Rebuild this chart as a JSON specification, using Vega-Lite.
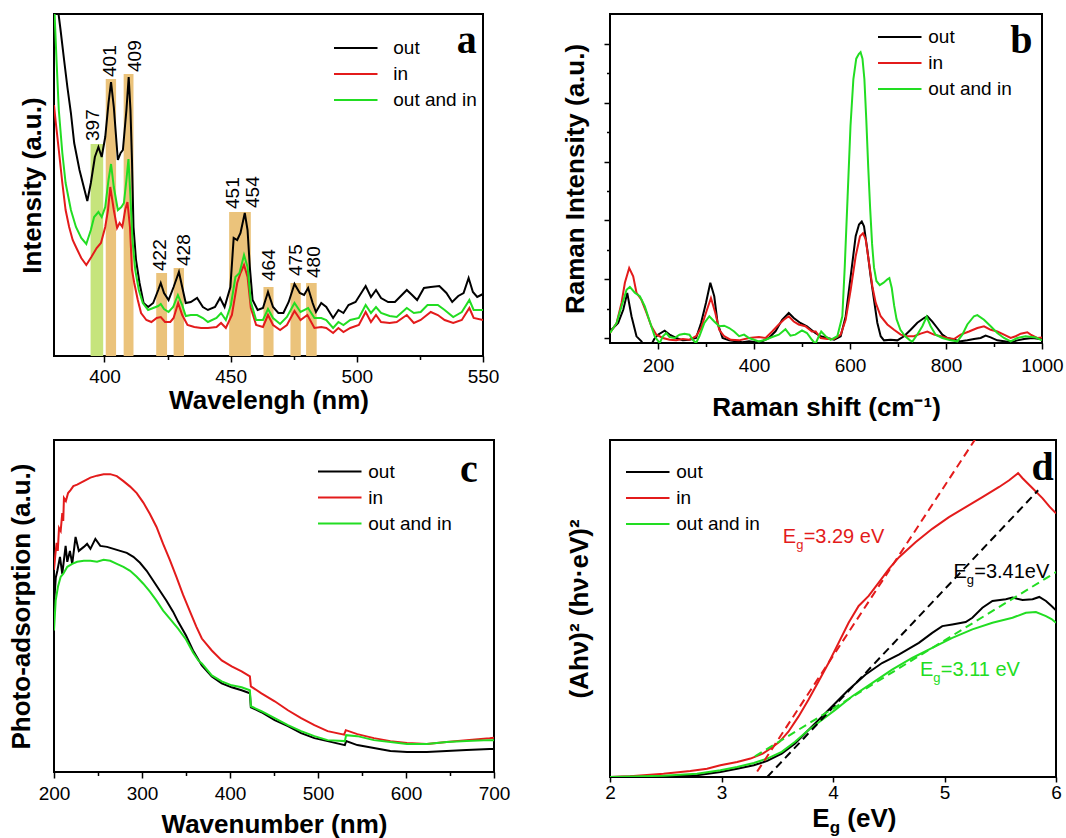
{
  "$schema": "https://vega.github.io/schema/vega-lite/v6.json",
  "background": "white",
  "padding": {"left": 7, "top": 13, "right": 3, "bottom": 2},
  "config": {
    "view": {"stroke": "black", "strokeWidth": 2},
    "font": "Liberation Sans",
    "axis": {"domain": false, "grid": false, "labelFont": "Liberation Sans", "labelFontSize": 19, "labelColor": "black", "titleFont": "Liberation Sans", "titleFontSize": 26, "titleFontWeight": "bold", "titleColor": "black", "tickColor": "black", "tickWidth": 1.5, "labelOverlap": false, "labelFlush": false},
    "legend": {"symbolType": "M-1.5,0H1.5", "symbolSize": 841, "symbolStrokeWidth": 2, "symbolOffset": 10.25, "labelFont": "Liberation Sans", "labelFontSize": 19, "labelColor": "black", "rowPadding": 0, "labelOffset": 22, "padding": 0}
  },
  "datasets": {
    "pl": [
      {"s":"out","x":381.4,"y":350},{"s":"out","x":382.6,"y":326},{"s":"out","x":384,"y":296},{"s":"out","x":385.3,"y":269},{"s":"out","x":386.7,"y":243},{"s":"out","x":388,"y":213},{"s":"out","x":390.1,"y":186},{"s":"out","x":392.1,"y":166},{"s":"out","x":393.2,"y":155},{"s":"out","x":394.6,"y":173},{"s":"out","x":396.2,"y":199},{"s":"out","x":397.6,"y":209},{"s":"out","x":398.9,"y":199},{"s":"out","x":400.3,"y":219},{"s":"out","x":401.6,"y":253},{"s":"out","x":402.6,"y":274},{"s":"out","x":403.7,"y":249},{"s":"out","x":405.3,"y":196},{"s":"out","x":406.4,"y":203},{"s":"out","x":407.3,"y":206},{"s":"out","x":408.7,"y":246},{"s":"out","x":409.6,"y":279},{"s":"out","x":410.3,"y":246},{"s":"out","x":410.9,"y":196},{"s":"out","x":411.5,"y":129},{"s":"out","x":412.5,"y":96},{"s":"out","x":413.9,"y":73},{"s":"out","x":415.5,"y":53},{"s":"out","x":417.3,"y":49},{"s":"out","x":419.3,"y":53},{"s":"out","x":421.3,"y":66},{"s":"out","x":422.3,"y":73},{"s":"out","x":423.6,"y":63},{"s":"out","x":425.4,"y":56},{"s":"out","x":427.4,"y":69},{"s":"out","x":429.5,"y":84},{"s":"out","x":430.8,"y":69},{"s":"out","x":432.2,"y":53},{"s":"out","x":434.2,"y":54},{"s":"out","x":436.7,"y":58},{"s":"out","x":439,"y":49},{"s":"out","x":441,"y":46},{"s":"out","x":443.8,"y":49},{"s":"out","x":445.8,"y":58},{"s":"out","x":447.6,"y":49},{"s":"out","x":449.9,"y":69},{"s":"out","x":451.2,"y":118},{"s":"out","x":452.6,"y":116},{"s":"out","x":453.9,"y":123},{"s":"out","x":455.6,"y":143},{"s":"out","x":456.7,"y":126},{"s":"out","x":457.6,"y":89},{"s":"out","x":458.7,"y":56},{"s":"out","x":460.7,"y":46},{"s":"out","x":462.8,"y":48},{"s":"out","x":464.8,"y":64},{"s":"out","x":466.8,"y":49},{"s":"out","x":468.9,"y":43},{"s":"out","x":470.9,"y":43},{"s":"out","x":473,"y":54},{"s":"out","x":475.3,"y":72},{"s":"out","x":477.4,"y":63},{"s":"out","x":479.1,"y":61},{"s":"out","x":480.7,"y":68},{"s":"out","x":482.5,"y":53},{"s":"out","x":483.8,"y":44},{"s":"out","x":485.9,"y":53},{"s":"out","x":487.9,"y":49},{"s":"out","x":490.6,"y":38},{"s":"out","x":492.7,"y":46},{"s":"out","x":494.7,"y":43},{"s":"out","x":496.7,"y":51},{"s":"out","x":499.5,"y":54},{"s":"out","x":503.5,"y":70},{"s":"out","x":505.6,"y":59},{"s":"out","x":507.6,"y":66},{"s":"out","x":509.6,"y":58},{"s":"out","x":512.4,"y":54},{"s":"out","x":515.1,"y":54},{"s":"out","x":519.8,"y":66},{"s":"out","x":521.9,"y":61},{"s":"out","x":523.9,"y":56},{"s":"out","x":526.6,"y":68},{"s":"out","x":529.3,"y":69},{"s":"out","x":532.7,"y":70},{"s":"out","x":535.5,"y":63},{"s":"out","x":537.8,"y":54},{"s":"out","x":540.2,"y":60},{"s":"out","x":542.3,"y":63},{"s":"out","x":544.3,"y":78},{"s":"out","x":546,"y":64},{"s":"out","x":547.7,"y":59},{"s":"out","x":550,"y":62},
      {"s":"in","x":380,"y":251},{"s":"in","x":380.6,"y":236},{"s":"in","x":381.9,"y":206},{"s":"in","x":383.3,"y":173},{"s":"in","x":384.6,"y":146},{"s":"in","x":386,"y":129},{"s":"in","x":387.4,"y":116},{"s":"in","x":388.7,"y":109},{"s":"in","x":390.8,"y":98},{"s":"in","x":392.8,"y":91},{"s":"in","x":394.8,"y":99},{"s":"in","x":396.9,"y":108},{"s":"in","x":398.6,"y":113},{"s":"in","x":400.3,"y":129},{"s":"in","x":401.4,"y":146},{"s":"in","x":402.3,"y":169},{"s":"in","x":403.7,"y":146},{"s":"in","x":405,"y":128},{"s":"in","x":406,"y":133},{"s":"in","x":407.1,"y":129},{"s":"in","x":408.2,"y":146},{"s":"in","x":409.1,"y":154},{"s":"in","x":410.1,"y":129},{"s":"in","x":410.9,"y":86},{"s":"in","x":411.8,"y":73},{"s":"in","x":413.2,"y":56},{"s":"in","x":414.5,"y":43},{"s":"in","x":416.6,"y":36},{"s":"in","x":418.6,"y":34},{"s":"in","x":420.7,"y":38},{"s":"in","x":422.3,"y":39},{"s":"in","x":424,"y":34},{"s":"in","x":426.1,"y":34},{"s":"in","x":427.4,"y":38},{"s":"in","x":429.2,"y":53},{"s":"in","x":430.8,"y":41},{"s":"in","x":432.9,"y":31},{"s":"in","x":435.6,"y":29},{"s":"in","x":438.3,"y":28},{"s":"in","x":441,"y":28},{"s":"in","x":444.4,"y":29},{"s":"in","x":446.2,"y":33},{"s":"in","x":448.1,"y":28},{"s":"in","x":450.5,"y":41},{"s":"in","x":452.6,"y":73},{"s":"in","x":453.9,"y":83},{"s":"in","x":455.3,"y":91},{"s":"in","x":456.7,"y":79},{"s":"in","x":458,"y":48},{"s":"in","x":460.1,"y":31},{"s":"in","x":462.8,"y":29},{"s":"in","x":464.8,"y":41},{"s":"in","x":466.8,"y":31},{"s":"in","x":469.6,"y":26},{"s":"in","x":472.3,"y":31},{"s":"in","x":475.3,"y":45},{"s":"in","x":477.7,"y":36},{"s":"in","x":480.4,"y":41},{"s":"in","x":483.2,"y":28},{"s":"in","x":485.9,"y":29},{"s":"in","x":487.9,"y":28},{"s":"in","x":490.6,"y":23},{"s":"in","x":492.7,"y":28},{"s":"in","x":494.7,"y":24},{"s":"in","x":497.4,"y":28},{"s":"in","x":500.8,"y":31},{"s":"in","x":503.5,"y":44},{"s":"in","x":505.6,"y":34},{"s":"in","x":507.6,"y":41},{"s":"in","x":509.6,"y":34},{"s":"in","x":513,"y":33},{"s":"in","x":515.8,"y":34},{"s":"in","x":519.8,"y":41},{"s":"in","x":522.6,"y":33},{"s":"in","x":525.3,"y":36},{"s":"in","x":529.3,"y":44},{"s":"in","x":532.1,"y":41},{"s":"in","x":534.8,"y":36},{"s":"in","x":538.2,"y":33},{"s":"in","x":541.6,"y":36},{"s":"in","x":544.6,"y":48},{"s":"in","x":546.3,"y":38},{"s":"in","x":550,"y":36},
      {"s":"out and in","x":380.1,"y":350},{"s":"out and in","x":381,"y":296},{"s":"out and in","x":381.9,"y":246},{"s":"out and in","x":383.3,"y":203},{"s":"out and in","x":384.6,"y":173},{"s":"out and in","x":386.7,"y":146},{"s":"out and in","x":388.7,"y":129},{"s":"out and in","x":390.8,"y":118},{"s":"out and in","x":392.8,"y":112},{"s":"out and in","x":394.6,"y":126},{"s":"out and in","x":395.9,"y":139},{"s":"out and in","x":397.6,"y":144},{"s":"out and in","x":398.9,"y":139},{"s":"out and in","x":400.3,"y":149},{"s":"out and in","x":401.6,"y":176},{"s":"out and in","x":402.6,"y":192},{"s":"out and in","x":403.7,"y":169},{"s":"out and in","x":405.3,"y":146},{"s":"out and in","x":406.7,"y":149},{"s":"out and in","x":407.7,"y":153},{"s":"out and in","x":408.7,"y":176},{"s":"out and in","x":409.5,"y":197},{"s":"out and in","x":410.3,"y":159},{"s":"out and in","x":411.1,"y":116},{"s":"out and in","x":412.2,"y":86},{"s":"out and in","x":413.6,"y":66},{"s":"out and in","x":415.2,"y":53},{"s":"out and in","x":417.3,"y":46},{"s":"out and in","x":419.3,"y":48},{"s":"out and in","x":421.3,"y":50},{"s":"out and in","x":422.3,"y":52},{"s":"out and in","x":423.6,"y":47},{"s":"out and in","x":425.4,"y":44},{"s":"out and in","x":427.2,"y":49},{"s":"out and in","x":429.1,"y":61},{"s":"out and in","x":430.8,"y":51},{"s":"out and in","x":432.2,"y":40},{"s":"out and in","x":434.2,"y":41},{"s":"out and in","x":436.7,"y":41},{"s":"out and in","x":439,"y":38},{"s":"out and in","x":441,"y":34},{"s":"out and in","x":444.4,"y":38},{"s":"out and in","x":446.2,"y":43},{"s":"out and in","x":448.1,"y":36},{"s":"out and in","x":450.1,"y":51},{"s":"out and in","x":451.9,"y":79},{"s":"out and in","x":453.5,"y":83},{"s":"out and in","x":455.3,"y":101},{"s":"out and in","x":456.7,"y":89},{"s":"out and in","x":458,"y":54},{"s":"out and in","x":460.1,"y":36},{"s":"out and in","x":462.8,"y":36},{"s":"out and in","x":464.8,"y":47},{"s":"out and in","x":466.8,"y":38},{"s":"out and in","x":469.6,"y":32},{"s":"out and in","x":472.3,"y":39},{"s":"out and in","x":475.3,"y":53},{"s":"out and in","x":477.7,"y":44},{"s":"out and in","x":480.7,"y":48},{"s":"out and in","x":483.2,"y":38},{"s":"out and in","x":485.9,"y":38},{"s":"out and in","x":487.9,"y":36},{"s":"out and in","x":490.6,"y":28},{"s":"out and in","x":492.7,"y":34},{"s":"out and in","x":494.7,"y":31},{"s":"out and in","x":497.4,"y":36},{"s":"out and in","x":500.8,"y":38},{"s":"out and in","x":503.5,"y":51},{"s":"out and in","x":505.6,"y":43},{"s":"out and in","x":507.6,"y":49},{"s":"out and in","x":509.6,"y":43},{"s":"out and in","x":513,"y":40},{"s":"out and in","x":515.8,"y":39},{"s":"out and in","x":519.8,"y":48},{"s":"out and in","x":522.6,"y":43},{"s":"out and in","x":525.3,"y":44},{"s":"out and in","x":528,"y":51},{"s":"out and in","x":532.1,"y":51},{"s":"out and in","x":534.8,"y":46},{"s":"out and in","x":538.2,"y":39},{"s":"out and in","x":541.6,"y":44},{"s":"out and in","x":544.6,"y":56},{"s":"out and in","x":546.3,"y":46},{"s":"out and in","x":550,"y":46}
    ],
    "bars": [
      {"grp":"g","x":394.5,"x2":399.5,"y":212},{"grp":"t","x":400.5,"x2":404.6,"y":277},{"grp":"t","x":407.6,"x2":411.5,"y":282},{"grp":"t","x":420.5,"x2":424.8,"y":83},{"grp":"t","x":427.4,"x2":431.5,"y":88},{"grp":"t","x":449.4,"x2":458,"y":144},{"grp":"t","x":463,"x2":467,"y":69},{"grp":"t","x":473.7,"x2":477.8,"y":73},{"grp":"t","x":479.9,"x2":484.1,"y":73}
    ],
    "peaks": [
      {"t":"397","x":395.4,"y":215},{"t":"401","x":402.2,"y":279},{"t":"409","x":412.2,"y":284},{"t":"422","x":422,"y":85},{"t":"428","x":431.6,"y":90},{"t":"451","x":450.9,"y":147},{"t":"454","x":459,"y":148},{"t":"464","x":465.1,"y":75},{"t":"475","x":476,"y":80},{"t":"480","x":483.2,"y":78}
    ],
    "raman": [
      {"s":"out","x":100,"y":0.114},{"s":"out","x":117,"y":0.256},{"s":"out","x":127.6,"y":0.48},{"s":"out","x":135.9,"y":0.767},{"s":"out","x":144.8,"y":0.37},{"s":"out","x":155.2,"y":0.028},{"s":"out","x":165.5,"y":-0.057},{"s":"out","x":172,"y":-0.15},{"s":"out","x":185,"y":-0.13},{"s":"out","x":192,"y":-0.02},{"s":"out","x":200,"y":0.057},{"s":"out","x":213.8,"y":0.125},{"s":"out","x":224.1,"y":0.057},{"s":"out","x":237.9,"y":0},{"s":"out","x":251.7,"y":-0.04},{"s":"out","x":265.5,"y":-0.028},{"s":"out","x":279.3,"y":0},{"s":"out","x":289.7,"y":0.256},{"s":"out","x":300,"y":0.6},{"s":"out","x":309,"y":0.94},{"s":"out","x":317.2,"y":0.71},{"s":"out","x":324.1,"y":0.256},{"s":"out","x":334.5,"y":0},{"s":"out","x":348.3,"y":-0.04},{"s":"out","x":362.1,"y":-0.057},{"s":"out","x":375.9,"y":-0.074},{"s":"out","x":389.7,"y":-0.057},{"s":"out","x":403.4,"y":-0.074},{"s":"out","x":417.2,"y":-0.057},{"s":"out","x":431,"y":0},{"s":"out","x":444.8,"y":0.114},{"s":"out","x":458.6,"y":0.31},{"s":"out","x":472.4,"y":0.426},{"s":"out","x":482.8,"y":0.34},{"s":"out","x":496.6,"y":0.256},{"s":"out","x":510.3,"y":0.2},{"s":"out","x":527.6,"y":0.085},{"s":"out","x":539,"y":0.03},{"s":"out","x":553,"y":0},{"s":"out","x":567,"y":-0.03},{"s":"out","x":580.6,"y":0.03},{"s":"out","x":591,"y":0.37},{"s":"out","x":601.4,"y":1.05},{"s":"out","x":611.8,"y":1.73},{"s":"out","x":618.8,"y":1.93},{"s":"out","x":624.5,"y":1.98},{"s":"out","x":629.2,"y":1.9},{"s":"out","x":636.1,"y":1.5},{"s":"out","x":643,"y":1.05},{"s":"out","x":650,"y":0.65},{"s":"out","x":656.9,"y":0.26},{"s":"out","x":663.9,"y":0.03},{"s":"out","x":670.8,"y":-0.04},{"s":"out","x":684.7,"y":-0.03},{"s":"out","x":698.6,"y":-0.04},{"s":"out","x":712.5,"y":0.03},{"s":"out","x":726.4,"y":0.14},{"s":"out","x":740.3,"y":0.26},{"s":"out","x":754.2,"y":0.34},{"s":"out","x":761.1,"y":0.37},{"s":"out","x":771.5,"y":0.28},{"s":"out","x":781.9,"y":0.17},{"s":"out","x":792.4,"y":0.057},{"s":"out","x":802.8,"y":0},{"s":"out","x":816.7,"y":-0.03},{"s":"out","x":830.6,"y":-0.057},{"s":"out","x":844.4,"y":-0.04},{"s":"out","x":858.3,"y":-0.017},{"s":"out","x":872.2,"y":0},{"s":"out","x":882.6,"y":0.04},{"s":"out","x":893,"y":0.01},{"s":"out","x":906.9,"y":-0.04},{"s":"out","x":920.8,"y":-0.057},{"s":"out","x":934.7,"y":-0.074},{"s":"out","x":948.6,"y":-0.04},{"s":"out","x":962.5,"y":-0.017},{"s":"out","x":980,"y":0},{"s":"out","x":1000,"y":-0.02},
      {"s":"in","x":100,"y":0.085},{"s":"in","x":113.8,"y":0.256},{"s":"in","x":124.1,"y":0.6},{"s":"in","x":131,"y":0.94},{"s":"in","x":140,"y":1.19},{"s":"in","x":148.3,"y":1.05},{"s":"in","x":155.2,"y":0.77},{"s":"in","x":165.5,"y":0.65},{"s":"in","x":175.9,"y":0.43},{"s":"in","x":186.2,"y":0.2},{"s":"in","x":196.6,"y":0.057},{"s":"in","x":210.3,"y":0},{"s":"in","x":224.1,"y":-0.03},{"s":"in","x":237.9,"y":-0.04},{"s":"in","x":251.7,"y":-0.017},{"s":"in","x":265.5,"y":-0.03},{"s":"in","x":279.3,"y":0.03},{"s":"in","x":289.7,"y":0.17},{"s":"in","x":300,"y":0.43},{"s":"in","x":310.3,"y":0.68},{"s":"in","x":319.3,"y":0.43},{"s":"in","x":327.6,"y":0.14},{"s":"in","x":337.9,"y":0.03},{"s":"in","x":351.7,"y":-0.03},{"s":"in","x":369,"y":-0.04},{"s":"in","x":389.7,"y":0},{"s":"in","x":410.3,"y":0.017},{"s":"in","x":424.1,"y":0},{"s":"in","x":437.9,"y":0.11},{"s":"in","x":451.7,"y":0.23},{"s":"in","x":462.1,"y":0.31},{"s":"in","x":472.4,"y":0.37},{"s":"in","x":482.8,"y":0.28},{"s":"in","x":493.1,"y":0.23},{"s":"in","x":506.9,"y":0.2},{"s":"in","x":520.7,"y":0.11},{"s":"in","x":528.5,"y":0.11},{"s":"in","x":538.9,"y":0},{"s":"in","x":552.8,"y":-0.017},{"s":"in","x":566.7,"y":-0.017},{"s":"in","x":580.6,"y":0.057},{"s":"in","x":591,"y":0.31},{"s":"in","x":601.4,"y":0.82},{"s":"in","x":611.8,"y":1.39},{"s":"in","x":620.8,"y":1.73},{"s":"in","x":627.1,"y":1.78},{"s":"in","x":632.6,"y":1.68},{"s":"in","x":639.6,"y":1.28},{"s":"in","x":646.5,"y":0.88},{"s":"in","x":653.5,"y":0.6},{"s":"in","x":663.9,"y":0.37},{"s":"in","x":677.8,"y":0.23},{"s":"in","x":691.7,"y":0.14},{"s":"in","x":705.6,"y":0.057},{"s":"in","x":719.4,"y":0.03},{"s":"in","x":733.3,"y":0.03},{"s":"in","x":747.2,"y":0.074},{"s":"in","x":761.1,"y":0.11},{"s":"in","x":775,"y":0.057},{"s":"in","x":788.9,"y":0.03},{"s":"in","x":802.8,"y":0},{"s":"in","x":816.7,"y":-0.017},{"s":"in","x":830.6,"y":0.057},{"s":"in","x":848,"y":0.11},{"s":"in","x":865.3,"y":0.17},{"s":"in","x":879.2,"y":0.2},{"s":"in","x":893.1,"y":0.14},{"s":"in","x":906.9,"y":0.11},{"s":"in","x":920.8,"y":0.057},{"s":"in","x":934.7,"y":0},{"s":"in","x":945.1,"y":0.03},{"s":"in","x":955.6,"y":0.074},{"s":"in","x":969.4,"y":0.097},{"s":"in","x":976.4,"y":0.057},{"s":"in","x":990,"y":0},{"s":"in","x":1000,"y":0.01},
      {"s":"out and in","x":100,"y":0.085},{"s":"out and in","x":113.8,"y":0.256},{"s":"out and in","x":124.1,"y":0.54},{"s":"out and in","x":134.5,"y":0.82},{"s":"out and in","x":141.4,"y":0.87},{"s":"out and in","x":151.7,"y":0.77},{"s":"out and in","x":162.1,"y":0.71},{"s":"out and in","x":172.4,"y":0.54},{"s":"out and in","x":182.8,"y":0.28},{"s":"out and in","x":193.1,"y":0.03},{"s":"out and in","x":203.4,"y":-0.085},{"s":"out and in","x":210.3,"y":0.03},{"s":"out and in","x":217.2,"y":0.085},{"s":"out and in","x":224.1,"y":0.017},{"s":"out and in","x":234.5,"y":0},{"s":"out and in","x":244.8,"y":0.057},{"s":"out and in","x":255.2,"y":0.074},{"s":"out and in","x":265.5,"y":0.057},{"s":"out and in","x":272.4,"y":-0.03},{"s":"out and in","x":279.3,"y":-0.085},{"s":"out and in","x":286.2,"y":0.03},{"s":"out and in","x":296.6,"y":0.256},{"s":"out and in","x":306.9,"y":0.37},{"s":"out and in","x":317.2,"y":0.28},{"s":"out and in","x":327.6,"y":0.2},{"s":"out and in","x":337.9,"y":0.21},{"s":"out and in","x":348.3,"y":0.17},{"s":"out and in","x":358.6,"y":0.11},{"s":"out and in","x":369,"y":0.03},{"s":"out and in","x":379.3,"y":0.057},{"s":"out and in","x":389.7,"y":0},{"s":"out and in","x":400,"y":-0.03},{"s":"out and in","x":410.3,"y":-0.057},{"s":"out and in","x":424.1,"y":-0.03},{"s":"out and in","x":437.9,"y":0.017},{"s":"out and in","x":451.7,"y":0.057},{"s":"out and in","x":465.5,"y":0.15},{"s":"out and in","x":475.9,"y":0.04},{"s":"out and in","x":486.2,"y":0.057},{"s":"out and in","x":500,"y":0.13},{"s":"out and in","x":510.3,"y":0.085},{"s":"out and in","x":520.7,"y":-0.03},{"s":"out and in","x":528,"y":-0.1},{"s":"out and in","x":535,"y":0.03},{"s":"out and in","x":540,"y":0.11},{"s":"out and in","x":549.3,"y":0.03},{"s":"out and in","x":559.7,"y":-0.03},{"s":"out and in","x":573.6,"y":0.03},{"s":"out and in","x":584,"y":0.37},{"s":"out and in","x":589,"y":1.2},{"s":"out and in","x":595,"y":2.4},{"s":"out and in","x":601,"y":3.6},{"s":"out and in","x":607,"y":4.4},{"s":"out and in","x":613,"y":4.75},{"s":"out and in","x":618.3,"y":4.83},{"s":"out and in","x":622,"y":4.86},{"s":"out and in","x":626,"y":4.75},{"s":"out and in","x":630,"y":4.4},{"s":"out and in","x":634,"y":3.7},{"s":"out and in","x":638,"y":2.9},{"s":"out and in","x":642,"y":2.2},{"s":"out and in","x":646,"y":1.6},{"s":"out and in","x":650,"y":1.2},{"s":"out and in","x":655,"y":0.97},{"s":"out and in","x":662,"y":0.9},{"s":"out and in","x":670,"y":0.94},{"s":"out and in","x":678,"y":1.0},{"s":"out and in","x":682,"y":1.02},{"s":"out and in","x":687,"y":0.85},{"s":"out and in","x":692,"y":0.55},{"s":"out and in","x":697,"y":0.32},{"s":"out and in","x":705,"y":0.14},{"s":"out and in","x":715,"y":0.03},{"s":"out and in","x":725,"y":-0.04},{"s":"out and in","x":730,"y":-0.06},{"s":"out and in","x":740.3,"y":0.06},{"s":"out and in","x":750.7,"y":0.2},{"s":"out and in","x":759.7,"y":0.36},{"s":"out and in","x":768,"y":0.2},{"s":"out and in","x":778.5,"y":0.057},{"s":"out and in","x":792.4,"y":0},{"s":"out and in","x":809.7,"y":-0.04},{"s":"out and in","x":823.6,"y":-0.057},{"s":"out and in","x":834,"y":0.057},{"s":"out and in","x":844.4,"y":0.23},{"s":"out and in","x":858.3,"y":0.37},{"s":"out and in","x":865.3,"y":0.39},{"s":"out and in","x":879.2,"y":0.31},{"s":"out and in","x":893.1,"y":0.2},{"s":"out and in","x":906.9,"y":0.085},{"s":"out and in","x":920.8,"y":0},{"s":"out and in","x":934.7,"y":-0.057},{"s":"out and in","x":948.6,"y":0},{"s":"out and in","x":965.9,"y":0.03},{"s":"out and in","x":987,"y":0.01},{"s":"out and in","x":1000,"y":-0.04}
    ],
    "abs": [
      {"s":"out","x":200.5,"y":175},{"s":"out","x":202,"y":195},{"s":"out","x":203.8,"y":202},{"s":"out","x":206.8,"y":216},{"s":"out","x":209.4,"y":199},{"s":"out","x":213.2,"y":227},{"s":"out","x":215.1,"y":211},{"s":"out","x":218.1,"y":222},{"s":"out","x":220.7,"y":209},{"s":"out","x":224.5,"y":236},{"s":"out","x":228.2,"y":222},{"s":"out","x":233.9,"y":226},{"s":"out","x":237.6,"y":229},{"s":"out","x":241.4,"y":224},{"s":"out","x":247,"y":234},{"s":"out","x":252.6,"y":227},{"s":"out","x":260.2,"y":226},{"s":"out","x":267.7,"y":224},{"s":"out","x":275.2,"y":222},{"s":"out","x":282.7,"y":220},{"s":"out","x":290.2,"y":216},{"s":"out","x":297.7,"y":210},{"s":"out","x":305.3,"y":202},{"s":"out","x":312.8,"y":192},{"s":"out","x":320.3,"y":182},{"s":"out","x":327.8,"y":172},{"s":"out","x":335.3,"y":161},{"s":"out","x":341,"y":151},{"s":"out","x":350,"y":137},{"s":"out","x":358,"y":122},{"s":"out","x":364,"y":113},{"s":"out","x":368,"y":107},{"s":"out","x":379.3,"y":96},{"s":"out","x":390.6,"y":89},{"s":"out","x":401.9,"y":85},{"s":"out","x":413.2,"y":82},{"s":"out","x":422.6,"y":79},{"s":"out","x":423.7,"y":65},{"s":"out","x":435.7,"y":60},{"s":"out","x":450.8,"y":52},{"s":"out","x":465.8,"y":46},{"s":"out","x":480.8,"y":39},{"s":"out","x":495.9,"y":34},{"s":"out","x":510.9,"y":31},{"s":"out","x":530.5,"y":27},{"s":"out","x":532,"y":31},{"s":"out","x":544.7,"y":27},{"s":"out","x":563.5,"y":24},{"s":"out","x":582.3,"y":21},{"s":"out","x":601.1,"y":20},{"s":"out","x":623.7,"y":20},{"s":"out","x":646.2,"y":21},{"s":"out","x":668.8,"y":22},{"s":"out","x":695.1,"y":23},{"s":"out","x":700,"y":23},
      {"s":"in","x":200,"y":203},{"s":"in","x":201.5,"y":218},{"s":"in","x":203,"y":230},{"s":"in","x":204.3,"y":222},{"s":"in","x":205.7,"y":245},{"s":"in","x":207.6,"y":242},{"s":"in","x":209.4,"y":260},{"s":"in","x":210.5,"y":252},{"s":"in","x":211.3,"y":275},{"s":"in","x":213.5,"y":272},{"s":"in","x":216,"y":280},{"s":"in","x":218.8,"y":283},{"s":"in","x":222,"y":287},{"s":"in","x":226.3,"y":288.5},{"s":"in","x":233.9,"y":292},{"s":"in","x":241.4,"y":295.5},{"s":"in","x":248.9,"y":297.5},{"s":"in","x":256.4,"y":299},{"s":"in","x":263.9,"y":299},{"s":"in","x":271.4,"y":297},{"s":"in","x":278.9,"y":292},{"s":"in","x":286.5,"y":286.5},{"s":"in","x":294,"y":280},{"s":"in","x":301.5,"y":270.5},{"s":"in","x":309,"y":259},{"s":"in","x":316.5,"y":246},{"s":"in","x":324,"y":229},{"s":"in","x":331.6,"y":213},{"s":"in","x":339.1,"y":196},{"s":"in","x":346.6,"y":178},{"s":"in","x":354.1,"y":162},{"s":"in","x":361.7,"y":146},{"s":"in","x":368,"y":134},{"s":"in","x":379.3,"y":122},{"s":"in","x":390.6,"y":112},{"s":"in","x":401.9,"y":106},{"s":"in","x":413.2,"y":101},{"s":"in","x":422.6,"y":96},{"s":"in","x":423.7,"y":86},{"s":"in","x":435.7,"y":79},{"s":"in","x":450.8,"y":71},{"s":"in","x":465.8,"y":62},{"s":"in","x":480.8,"y":54},{"s":"in","x":495.9,"y":47},{"s":"in","x":510.9,"y":41},{"s":"in","x":529.7,"y":37.5},{"s":"in","x":531.6,"y":42},{"s":"in","x":544.7,"y":38},{"s":"in","x":563.5,"y":34},{"s":"in","x":582.3,"y":31},{"s":"in","x":601.1,"y":29},{"s":"in","x":623.7,"y":28},{"s":"in","x":646.2,"y":30},{"s":"in","x":668.8,"y":32},{"s":"in","x":695.1,"y":34},{"s":"in","x":700,"y":34.5},
      {"s":"out and in","x":200,"y":142},{"s":"out and in","x":201.9,"y":172},{"s":"out and in","x":204.5,"y":186},{"s":"out and in","x":207.6,"y":196},{"s":"out and in","x":210.6,"y":199},{"s":"out and in","x":215.1,"y":206},{"s":"out and in","x":220.7,"y":209},{"s":"out and in","x":226.3,"y":211},{"s":"out and in","x":233.9,"y":212},{"s":"out and in","x":241.4,"y":212},{"s":"out and in","x":248.9,"y":211},{"s":"out and in","x":256.4,"y":213},{"s":"out and in","x":263.9,"y":212},{"s":"out and in","x":271.4,"y":209},{"s":"out and in","x":278.9,"y":206},{"s":"out and in","x":286.5,"y":202},{"s":"out and in","x":294,"y":196},{"s":"out and in","x":301.5,"y":189},{"s":"out and in","x":309,"y":181},{"s":"out and in","x":316.5,"y":172},{"s":"out and in","x":324,"y":162},{"s":"out and in","x":331.6,"y":154},{"s":"out and in","x":341,"y":144},{"s":"out and in","x":350,"y":133},{"s":"out and in","x":358,"y":120},{"s":"out and in","x":364,"y":112},{"s":"out and in","x":368,"y":109},{"s":"out and in","x":379.3,"y":97},{"s":"out and in","x":390.6,"y":91},{"s":"out and in","x":401.9,"y":87},{"s":"out and in","x":413.2,"y":85},{"s":"out and in","x":422.6,"y":82},{"s":"out and in","x":423.7,"y":66},{"s":"out and in","x":435.7,"y":61},{"s":"out and in","x":450.8,"y":54},{"s":"out and in","x":465.8,"y":47},{"s":"out and in","x":480.8,"y":41},{"s":"out and in","x":495.9,"y":36},{"s":"out and in","x":510.9,"y":32},{"s":"out and in","x":530.5,"y":31},{"s":"out and in","x":532,"y":37},{"s":"out and in","x":544.7,"y":36},{"s":"out and in","x":563.5,"y":32},{"s":"out and in","x":582.3,"y":30},{"s":"out and in","x":601.1,"y":28},{"s":"out and in","x":623.7,"y":28},{"s":"out and in","x":646.2,"y":30},{"s":"out and in","x":668.8,"y":31},{"s":"out and in","x":695.1,"y":32},{"s":"out and in","x":700,"y":32}
    ],
    "tauc": [
      {"s":"out","x":2,"y":0},{"s":"out","x":2.48,"y":0.7},{"s":"out","x":2.78,"y":1.7},{"s":"out","x":2.99,"y":5},{"s":"out","x":3.14,"y":8.3},{"s":"out","x":3.29,"y":11.7},{"s":"out","x":3.41,"y":16},{"s":"out","x":3.54,"y":23.3},{"s":"out","x":3.66,"y":33.3},{"s":"out","x":3.78,"y":46.7},{"s":"out","x":3.9,"y":60},{"s":"out","x":4.02,"y":73.3},{"s":"out","x":4.14,"y":86.7},{"s":"out","x":4.29,"y":101.7},{"s":"out","x":4.44,"y":113.3},{"s":"out","x":4.59,"y":121.7},{"s":"out","x":4.77,"y":133.3},{"s":"out","x":4.89,"y":143.3},{"s":"out","x":4.98,"y":150},{"s":"out","x":5.07,"y":151.7},{"s":"out","x":5.19,"y":154},{"s":"out","x":5.25,"y":158.3},{"s":"out","x":5.34,"y":168.3},{"s":"out","x":5.43,"y":175},{"s":"out","x":5.55,"y":176.7},{"s":"out","x":5.61,"y":178.3},{"s":"out","x":5.7,"y":176},{"s":"out","x":5.79,"y":176.7},{"s":"out","x":5.85,"y":179},{"s":"out","x":5.91,"y":175},{"s":"out","x":5.96,"y":170},{"s":"out","x":6,"y":165.7},
      {"s":"in","x":2,"y":0},{"s":"in","x":2.18,"y":0.7},{"s":"in","x":2.48,"y":3.3},{"s":"in","x":2.72,"y":6},{"s":"in","x":2.87,"y":8.3},{"s":"in","x":2.99,"y":11.7},{"s":"in","x":3.14,"y":15},{"s":"in","x":3.26,"y":18.3},{"s":"in","x":3.37,"y":23.3},{"s":"in","x":3.44,"y":28.3},{"s":"in","x":3.52,"y":35},{"s":"in","x":3.6,"y":45},{"s":"in","x":3.69,"y":60},{"s":"in","x":3.78,"y":76.7},{"s":"in","x":3.87,"y":95},{"s":"in","x":3.96,"y":113.3},{"s":"in","x":4.05,"y":133.3},{"s":"in","x":4.14,"y":153.3},{"s":"in","x":4.23,"y":170},{"s":"in","x":4.32,"y":180},{"s":"in","x":4.41,"y":193.3},{"s":"in","x":4.5,"y":206.7},{"s":"in","x":4.59,"y":218.3},{"s":"in","x":4.74,"y":233.3},{"s":"in","x":4.89,"y":246.7},{"s":"in","x":5.04,"y":258.3},{"s":"in","x":5.19,"y":268.3},{"s":"in","x":5.34,"y":278.3},{"s":"in","x":5.49,"y":288.3},{"s":"in","x":5.58,"y":295},{"s":"in","x":5.66,"y":302},{"s":"in","x":5.7,"y":297},{"s":"in","x":5.79,"y":287},{"s":"in","x":5.88,"y":277},{"s":"in","x":5.94,"y":269},{"s":"in","x":6,"y":262},
      {"s":"out and in","x":2,"y":0},{"s":"out and in","x":2.48,"y":1.3},{"s":"out and in","x":2.78,"y":3.3},{"s":"out and in","x":2.99,"y":6.7},{"s":"out and in","x":3.14,"y":10},{"s":"out and in","x":3.29,"y":14},{"s":"out and in","x":3.41,"y":18.3},{"s":"out and in","x":3.54,"y":25},{"s":"out and in","x":3.66,"y":35},{"s":"out and in","x":3.78,"y":46.7},{"s":"out and in","x":3.9,"y":56.7},{"s":"out and in","x":4.02,"y":66.7},{"s":"out and in","x":4.17,"y":80},{"s":"out and in","x":4.35,"y":93.3},{"s":"out and in","x":4.53,"y":106.7},{"s":"out and in","x":4.71,"y":118.3},{"s":"out and in","x":4.89,"y":128.3},{"s":"out and in","x":5.07,"y":138.3},{"s":"out and in","x":5.25,"y":146.7},{"s":"out and in","x":5.43,"y":153.3},{"s":"out and in","x":5.61,"y":158.3},{"s":"out and in","x":5.73,"y":163.3},{"s":"out and in","x":5.82,"y":164},{"s":"out and in","x":5.91,"y":160},{"s":"out and in","x":5.96,"y":157},{"s":"out and in","x":6,"y":153.3}
    ],
    "fit": [
      {"s":"in","x":3.32,"y":5.4},{"s":"in","x":5.33,"y":345},
      {"s":"out","x":3.41,"y":0},{"s":"out","x":5.84,"y":285},
      {"s":"out and in","x":3.3,"y":20.5},{"s":"out and in","x":6.05,"y":207}
    ],
    "ann": [
      {"s":"in","x":3.55,"y":233,"t":"=3.29 eV"},
      {"s":"out","x":5.08,"y":198,"t":"=3.41eV"},
      {"s":"out and in","x":4.78,"y":100,"t":"=3.11 eV"}
    ]
  },
  "resolve": {"scale": {"color": "independent", "fill": "independent"}, "legend": {"color": "independent"}},
  "bounds": "flush",
  "align": "none",
  "columns": 2,
  "spacing": {"row": 84, "column": 116},
  "concat": [
    {
      "width": 429, "height": 342,
      "encoding": {
        "x": {"field": "x", "type": "quantitative", "scale": {"domain": [380, 550], "nice": false, "zero": false},
              "axis": {"title": "Wavelengh (nm)", "values": [400, 425, 450, 475, 500, 525, 550], "labelExpr": "datum.value % 50 === 0 ? datum.label : ''", "tickSize": {"condition": {"test": "datum.value % 50 === 0", "value": 6}, "value": 3.5}, "labelPadding": 5, "titlePadding": 1}},
        "y": {"field": "y", "type": "quantitative", "scale": {"domain": [0, 342], "nice": false, "zero": false},
              "axis": {"title": "Intensity (a.u.)", "ticks": false, "labels": false, "titlePadding": 9}}
      },
      "layer": [
        {"data": {"name": "bars"}, "transform": [{"filter": "datum.grp === 'g'"}], "mark": {"type": "rect", "fill": "#c6e47c"}, "encoding": {"x2": {"field": "x2"}, "y2": {"datum": 0}}},
        {"data": {"name": "bars"}, "transform": [{"filter": "datum.grp === 't'"}], "mark": {"type": "rect", "fill": "#ebc37b"}, "encoding": {"x2": {"field": "x2"}, "y2": {"datum": 0}}},
        {"data": {"name": "pl"}, "mark": {"type": "line", "strokeWidth": 2, "clip": true},
         "encoding": {"color": {"field": "s", "type": "nominal", "scale": {"domain": ["out", "in", "out and in"], "range": ["#000000", "#e31b1b", "#22dd22"]}, "legend": {"title": null, "orient": "none", "legendX": 276, "legendY": 18.5}}}},
        {"data": {"name": "peaks"}, "mark": {"type": "text", "angle": 270, "align": "left", "baseline": "middle", "fontSize": 19, "font": "Liberation Sans", "color": "black"}, "encoding": {"text": {"field": "t"}}},
        {"data": {"values": [{"x": 547.5, "y": 303, "t": "a"}]}, "mark": {"type": "text", "align": "right", "baseline": "alphabetic", "font": "Liberation Serif", "fontWeight": "bold", "fontSize": 40, "color": "black"}, "encoding": {"text": {"field": "t"}}}
      ]
    },
    {
      "width": 432, "height": 329,
      "encoding": {
        "x": {"field": "x", "type": "quantitative", "scale": {"domain": [100, 1000], "nice": false, "zero": false},
              "axis": {"title": "Raman shift (cm⁻¹)", "format": "d", "values": [200, 300, 400, 500, 600, 700, 800, 900, 1000], "labelExpr": "datum.value % 200 === 0 ? datum.label : ''", "tickSize": {"condition": {"test": "datum.value % 200 === 0", "value": 6}, "value": 3.5}, "labelPadding": 7, "titlePadding": 19}},
        "y": {"field": "y", "type": "quantitative", "scale": {"domain": [-0.085, 5.51], "nice": false, "zero": false},
              "axis": {"title": "Raman Intensity (a.u.)", "labels": false, "values": [0, 0.5, 1, 1.5, 2, 2.5, 3, 3.5, 4, 4.5, 5], "tickSize": {"condition": {"test": "datum.value % 1 === 0", "value": 6}, "value": 3.5}, "titlePadding": 15}}
      },
      "layer": [
        {"data": {"name": "raman"}, "mark": {"type": "line", "strokeWidth": 2, "clip": true},
         "encoding": {"color": {"field": "s", "type": "nominal", "scale": {"domain": ["out", "in", "out and in"], "range": ["#000000", "#e31b1b", "#22dd22"]}, "legend": {"title": null, "orient": "none", "legendX": 264, "legendY": 7.5, "labelOffset": 13}}}},
        {"data": {"values": [{"x": 980, "y": 4.85, "t": "b"}]}, "mark": {"type": "text", "align": "right", "baseline": "alphabetic", "font": "Liberation Serif", "fontWeight": "bold", "fontSize": 40, "color": "black"}, "encoding": {"text": {"field": "t"}}}
      ]
    },
    {
      "width": 440, "height": 332,
      "encoding": {
        "x": {"field": "x", "type": "quantitative", "scale": {"domain": [200, 700], "nice": false, "zero": false},
              "axis": {"title": "Wavenumber (nm)", "values": [200, 250, 300, 350, 400, 450, 500, 550, 600, 650, 700], "labelExpr": "datum.value % 100 === 0 ? datum.label : ''", "tickSize": {"condition": {"test": "datum.value % 100 === 0", "value": 6}, "value": 3.5}, "labelPadding": 6, "titlePadding": 8}},
        "y": {"field": "y", "type": "quantitative", "scale": {"domain": [0, 333.3], "nice": false, "zero": false},
              "axis": {"title": "Photo-adsorption (a.u.)", "ticks": false, "labels": false, "titlePadding": 20}}
      },
      "layer": [
        {"data": {"name": "abs"}, "mark": {"type": "line", "strokeWidth": 2, "clip": true},
         "encoding": {"color": {"field": "s", "type": "nominal", "scale": {"domain": ["out", "in", "out and in"], "range": ["#000000", "#e31b1b", "#22dd22"]}, "legend": {"title": null, "orient": "none", "legendX": 260, "legendY": 16, "labelOffset": 13}}}},
        {"data": {"values": [{"x": 681.6, "y": 290.7, "t": "c"}]}, "mark": {"type": "text", "align": "right", "baseline": "alphabetic", "font": "Liberation Serif", "fontWeight": "bold", "fontSize": 40, "color": "black"}, "encoding": {"text": {"field": "t"}}}
      ]
    },
    {
      "width": 446, "height": 337,
      "encoding": {
        "x": {"field": "x", "type": "quantitative", "scale": {"domain": [2, 6], "nice": false, "zero": false},
              "axis": {"title": null, "format": "d", "values": [2, 2.5, 3, 3.5, 4, 4.5, 5, 5.5, 6], "labelExpr": "datum.value % 1 === 0 ? datum.label : ''", "tickSize": {"condition": {"test": "datum.value % 1 === 0", "value": 5}, "value": 3}, "labelPadding": 1}},
        "y": {"field": "y", "type": "quantitative", "scale": {"domain": [0, 335], "nice": false, "zero": false},
              "axis": {"title": "(Ahν)² (hν·eV)²", "ticks": false, "labels": false, "titlePadding": 18}}
      },
      "layer": [
        {"data": {"name": "tauc"}, "mark": {"type": "line", "strokeWidth": 2, "clip": true},
         "encoding": {"color": {"field": "s", "type": "nominal", "scale": {"domain": ["out", "in", "out and in"], "range": ["#000000", "#e31b1b", "#22dd22"]}, "legend": {"title": null, "orient": "none", "legendX": 12, "legendY": 16.5, "labelOffset": 13}}}},
        {"data": {"name": "fit"}, "mark": {"type": "line", "strokeWidth": 2, "strokeDash": [8, 5], "clip": true},
         "encoding": {"color": {"field": "s", "type": "nominal", "legend": null}}},
        {"data": {"name": "ann"}, "mark": {"type": "text", "align": "left", "baseline": "alphabetic", "fontSize": 20, "font": "Liberation Sans", "text": "E"},
         "encoding": {"fill": {"field": "s", "type": "nominal", "scale": {"domain": ["out", "in", "out and in"], "range": ["#000000", "#e31b1b", "#22dd22"]}, "legend": null}}},
        {"data": {"name": "ann"}, "mark": {"type": "text", "align": "left", "baseline": "alphabetic", "fontSize": 13, "font": "Liberation Sans", "text": "g", "dx": 13.3, "dy": 6},
         "encoding": {"fill": {"field": "s", "type": "nominal", "legend": null}}},
        {"data": {"name": "ann"}, "mark": {"type": "text", "align": "left", "baseline": "alphabetic", "fontSize": 20, "font": "Liberation Sans", "dx": 20.8},
         "encoding": {"text": {"field": "t"}, "fill": {"field": "s", "type": "nominal", "legend": null}}},
        {"data": {"values": [{"x": 5.98, "y": 295, "t": "d"}]}, "mark": {"type": "text", "align": "right", "baseline": "alphabetic", "font": "Liberation Serif", "fontWeight": "bold", "fontSize": 40, "color": "black"}, "encoding": {"text": {"field": "t"}}},
        {"data": {"values": [{"x": 3.815, "y": -50}]}, "mark": {"type": "text", "align": "left", "baseline": "alphabetic", "font": "Liberation Sans", "fontWeight": "bold", "fontSize": 26, "color": "black", "text": "E"}, "encoding": {}},
        {"data": {"values": [{"x": 3.815, "y": -50}]}, "mark": {"type": "text", "align": "left", "baseline": "alphabetic", "font": "Liberation Sans", "fontWeight": "bold", "fontSize": 17, "color": "black", "text": "g", "dx": 17.3, "dy": 6}, "encoding": {}},
        {"data": {"values": [{"x": 3.815, "y": -50}]}, "mark": {"type": "text", "align": "left", "baseline": "alphabetic", "font": "Liberation Sans", "fontWeight": "bold", "fontSize": 26, "color": "black", "text": "(eV)", "dx": 35}, "encoding": {}}
      ]
    }
  ]
}
